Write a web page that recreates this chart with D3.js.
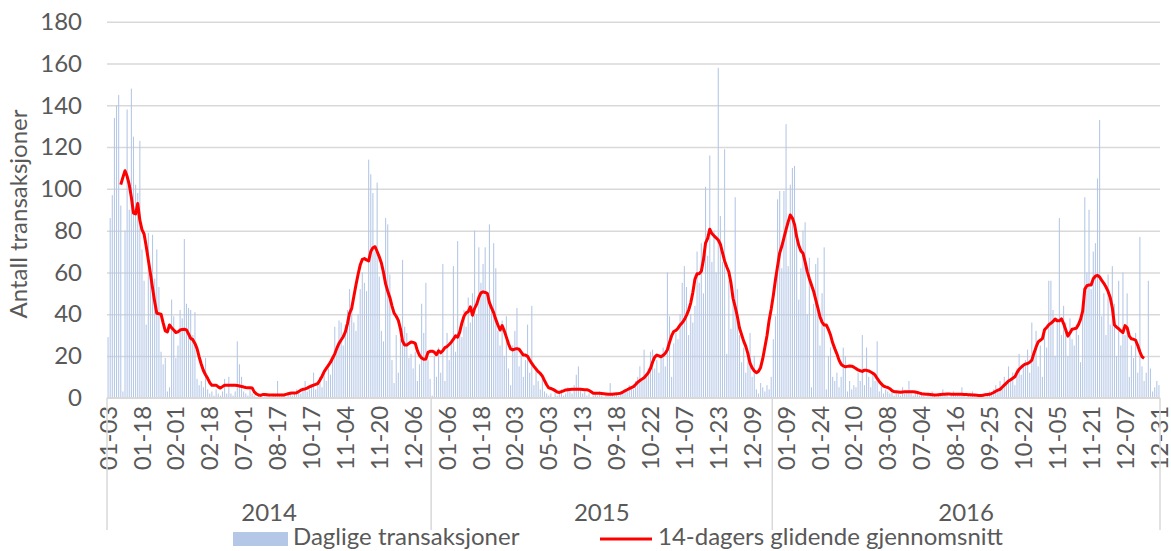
<!DOCTYPE html>
<html>
<head>
<meta charset="utf-8">
<script src="https://cdn.jsdelivr.net/npm/d3@7"></script>
<style>
  html, body { margin: 0; padding: 0; background: #fff; }
  svg { display: block; font-family: Lato, "Open Sans", sans-serif; }
</style>
</head>
<body>
<div id="app"></div>
<script>
// one row = one label interval (16 categories)
var daily = [
  29,86,97,134,140,145,92,3,80,138,90,148,125,102,98,123,
  71,56,35,79,60,78,57,71,53,22,16,19,3,5,47,39,
  19,25,42,38,76,45,43,42,30,41,9,6,8,5,19,4,
  2,3,1,4,2,1,3,9,2,10,2,1,3,27,16,10,
  3,2,1,4,2,1,0,1,2,0,1,2,1,0,2,1,
  8,1,2,1,0,2,3,1,2,4,3,2,5,8,3,4,
  5,12,4,6,10,5,13,8,14,11,18,34,22,37,36,25,
  35,42,52,45,36,32,40,52,60,55,51,114,107,98,70,103,
  58,32,27,86,83,59,18,7,30,12,28,66,34,31,19,21,
  14,22,8,16,45,31,55,18,9,1,20,10,24,12,64,8,
  31,18,26,63,22,75,34,29,42,34,48,36,50,80,40,72,
  55,64,72,48,83,44,74,62,32,25,37,20,39,14,6,25,
  32,43,15,22,10,18,35,12,44,6,15,8,4,10,3,2,
  1,2,0,3,1,2,4,1,2,5,3,2,6,11,15,4,
  2,3,1,2,0,1,2,1,3,1,0,2,1,7,2,1,
  2,1,3,2,4,3,6,5,4,8,10,15,9,23,12,14,
  22,23,14,18,12,20,24,15,60,39,10,26,31,28,40,55,
  63,53,30,40,36,44,70,55,74,50,101,68,116,65,80,60,
  158,87,65,119,21,56,33,48,96,52,30,17,24,12,19,31,
  10,20,4,2,7,5,3,6,4,10,28,39,95,99,62,99,
  131,63,102,110,111,80,47,62,80,84,40,67,5,45,64,67,
  25,50,72,4,20,24,10,8,12,5,10,24,20,3,8,4,
  6,5,12,8,30,6,24,10,5,12,8,27,3,6,2,4,
  3,2,4,1,3,2,1,5,2,3,8,2,1,3,2,1,
  2,1,0,2,1,3,1,0,2,1,4,1,2,0,1,3,
  1,2,1,5,1,0,2,1,3,1,0,1,2,1,0,2,
  3,1,4,6,3,8,5,10,7,15,9,12,6,14,21,11,
  15,18,23,12,36,20,32,15,25,10,30,24,56,56,42,20,
  38,86,30,44,36,20,38,28,25,35,30,17,45,96,60,90,
  52,70,74,105,133,39,50,30,59,35,63,45,20,56,25,60,
  30,50,10,25,19,31,12,77,15,8,12,56,14,3,5,8,
  6
];

var avg14 = [
  null,null,null,null,null,null,102,105.5,108.7,106,102,96,88.4,88,93,85,
  80.5,78.4,72.5,66,59.5,52.5,46,40.4,40.2,40,35.8,32,31.5,34.8,33.5,32.4,
  31.2,31.5,32.4,32.7,32.8,32.5,30.5,28.4,27.8,26,23.5,19.5,16,13,11,9.3,
  7.2,6,6,6,5.2,4.6,5.3,6,6,6,6,6,6,5.8,5.6,5.4,
  5.1,4.9,4.8,4.8,4.7,2.8,1.8,1.3,1.1,1.5,1.5,1.4,1.3,1.3,1.3,1.3,
  1.3,1.3,1.3,1.3,1.6,1.9,2.1,2.2,2.3,2.4,3,3.6,4,4.2,4.6,5.2,
  5.6,6,6.4,6.8,8.5,10.3,12.5,14,15.5,17,19,21,23.7,26,27.6,29.2,
  31.5,35.5,40.5,42.8,48.5,54,59,63.5,66.2,66.6,66,65.5,70,71.8,72.3,70,
  67.5,64.5,60,54.5,51,48,44,40.5,39,37,33,27,25.2,25.2,26,26.7,
  26.5,26,22.5,20.3,19,18.4,18.5,21.7,22.2,22.3,21.8,20.6,22.5,21.5,22.5,24,
  24.5,25.5,26.6,28,29.6,29,31.5,35.8,39,40.6,41.2,43.5,39.5,42.8,44.8,48,
  50.2,50.7,50.4,50,45.5,43,40.7,37.5,34.8,32.4,34.5,32,29,25.8,23.4,22.9,
  23.3,23.5,23.2,21.8,20.4,20.4,19.8,18,16.4,15,13.7,12.5,11.6,10.3,8.2,6.2,
  4.7,4.4,4,3.4,2.7,2.5,2.9,3.3,3.7,3.8,3.9,4,4,4,4,4,
  3.9,3.8,3.8,3.5,2.8,2.1,2.1,2.1,2.1,2,1.9,1.8,1.7,1.6,1.7,1.8,
  1.9,2,2.2,2.7,3.3,3.8,4.3,4.8,5.3,6.3,7.4,8.2,8.9,9.6,10.7,12,
  14,17,19.4,20.4,20,19.6,20.3,21.3,23,26.5,29.7,31.7,32.2,33.3,34.8,35.9,
  37.4,39.4,41.9,45.3,50.4,56.8,59.3,59.4,60.5,66,74,76.3,80.7,78.6,77.5,76.5,
  75.5,73.5,69.5,65.5,62.7,60.2,55,47.5,43.5,39,33.5,30.3,27.1,24.6,21.1,16.5,
  14.3,12.9,12,12.6,14.5,18.7,24.2,29.7,37,42.5,49,56.5,63,69.3,72.5,76.5,
  80.5,84.2,87.5,86,83,77.1,73,70.3,69.2,65,60.5,57,54,51,47,43,
  38.8,36.2,34.8,34.8,32.7,30,26.3,23.5,21,18,16,15.2,14.8,15,15.2,15.1,
  14.6,14,13.3,12.9,12.6,13.2,13.1,12.8,12.3,11.7,10.9,9.2,7.8,6.6,5.6,5.2,
  4.9,4.3,3.4,2.9,2.8,2.7,2.6,2.7,2.8,2.8,2.9,2.9,2.8,2.7,2.5,2.2,
  1.9,1.8,1.7,1.6,1.5,1.4,1.3,1.3,1.4,1.5,1.6,1.7,1.8,1.8,1.7,1.7,
  1.6,1.6,1.6,1.6,1.5,1.5,1.4,1.4,1.3,1.3,1.2,1.1,1,1.2,1.4,1.5,
  1.6,2,2.5,3.1,3.6,4,5,6,7,8,8.6,9.3,10,12,13.6,14.6,
  15.5,16.1,16.4,17,18,21.3,24.2,26.7,27.5,28.3,32.5,33.6,34.9,35.6,36.5,37.7,
  36.8,36.8,37.8,35.5,32.5,29.5,31,32.8,33,33.3,35,37.5,41.5,52,53.6,54,
  54,57,58.2,58.6,57.8,56.2,54.8,53,50.9,48,43,34.8,33.8,33,32,31.2,
  34.5,33.5,29.5,28.2,28,27.5,25,22,19.6,18.9,null,null,null,null,null,null,
  null
];

var tickLabels = ["01-03","01-18","02-01","02-18","07-01","08-17","10-17","11-04","11-20","12-06",
  "01-06","01-18","02-03","05-03","07-13","09-18","10-22","11-07","11-23","12-09",
  "01-09","01-24","02-10","03-08","07-04","08-16","09-25","10-22","11-05","11-21","12-07","12-31"];
var years = ["2014","2015","2016"];
var yearCounts = [153,161,183];
var yTicks = [0,20,40,60,80,100,120,140,160,180];

var width = 1171, height = 551;
var plotL = 107, plotR = 1160, plotT = 21.8, plotB = 397.7;
var textColor = "#595959", gridColor = "#d9d9d9";
var fontSize = "24px";

var svg = d3.select("#app").append("svg").attr("width", width).attr("height", height);

var x = d3.scaleBand().domain(d3.range(daily.length)).range([plotL, plotR]);
var y = d3.scaleLinear().domain([0, 180]).range([plotB, plotT]);
var bw = x.bandwidth();

// gridlines + y labels
var yAxis = svg.append("g").attr("transform", "translate(" + plotL + ",0)")
  .call(d3.axisLeft(y).tickValues(yTicks).tickSize(-(plotR - plotL)).tickPadding(25));
yAxis.select(".domain").remove();
yAxis.selectAll("line").attr("stroke", gridColor).attr("stroke-width", 1.5);
yAxis.selectAll("text").attr("fill", textColor).style("font-size", fontSize).style("font-family", "Lato");

// bars
var barW = bw * 0.5;
svg.append("g").selectAll("rect").data(daily).enter().append("rect")
  .attr("x", function (d, i) { return x(i) + (bw - barW) / 2; })
  .attr("y", function (d) { return y(d); })
  .attr("width", barW)
  .attr("height", function (d) { return plotB - y(d); })
  .attr("fill", "#b4c7e7");

// category axis
var xAxis = svg.append("g").attr("transform", "translate(0," + plotB + ")")
  .call(d3.axisBottom(x).tickValues(d3.range(0, daily.length, 16))
    .tickFormat(function (d, k) { return tickLabels[k]; }).tickSize(0));
xAxis.select(".domain").remove();
xAxis.selectAll("text")
  .attr("transform", "rotate(-90)")
  .attr("x", -8).attr("y", 0).attr("dy", "0.36em")
  .attr("text-anchor", "end")
  .attr("fill", textColor).style("font-size", fontSize).style("font-family", "Lato");

svg.append("line").attr("x1", plotL).attr("x2", plotR).attr("y1", plotB).attr("y2", plotB)
  .attr("stroke", gridColor).attr("stroke-width", 1.5);

// year groups
var starts = [0];
yearCounts.forEach(function (c, k) { starts.push(starts[k] + c); });
starts.forEach(function (s) {
  var xx = s < daily.length ? x(s) : plotR;
  svg.append("line").attr("x1", xx).attr("x2", xx).attr("y1", plotB).attr("y2", 530)
    .attr("stroke", gridColor).attr("stroke-width", 1.5);
});
years.forEach(function (yr, k) {
  var x0 = x(starts[k]), x1 = starts[k + 1] < daily.length ? x(starts[k + 1]) : plotR;
  svg.append("text").attr("x", (x0 + x1) / 2).attr("y", 521).attr("text-anchor", "middle")
    .attr("fill", textColor).style("font-size", fontSize).text(yr);
});

// moving average
var line = d3.line()
  .defined(function (d) { return d != null; })
  .x(function (d, i) { return x(i) + bw / 2; })
  .y(function (d) { return y(d); });
svg.append("path").datum(avg14).attr("fill", "none").attr("stroke", "#ff0000")
  .attr("stroke-width", 3).attr("stroke-linejoin", "round").attr("d", line);

// y title
svg.append("text").attr("transform", "translate(27,214) rotate(-90)").attr("text-anchor", "middle")
  .attr("fill", textColor).style("font-size", fontSize).text("Antall transaksjoner");

// legend
var lg = svg.append("g");
lg.append("rect").attr("x", 233).attr("y", 532).attr("width", 55).attr("height", 14).attr("fill", "#b4c7e7");
lg.append("text").attr("x", 293).attr("y", 545).attr("fill", textColor).style("font-size", fontSize).text("Daglige transaksjoner");
lg.append("line").attr("x1", 600).attr("x2", 652).attr("y1", 539).attr("y2", 539).attr("stroke", "#ff0000").attr("stroke-width", 3);
lg.append("text").attr("x", 658).attr("y", 545).attr("fill", textColor).style("font-size", fontSize).text("14-dagers glidende gjennomsnitt");
</script>
</body>
</html>
